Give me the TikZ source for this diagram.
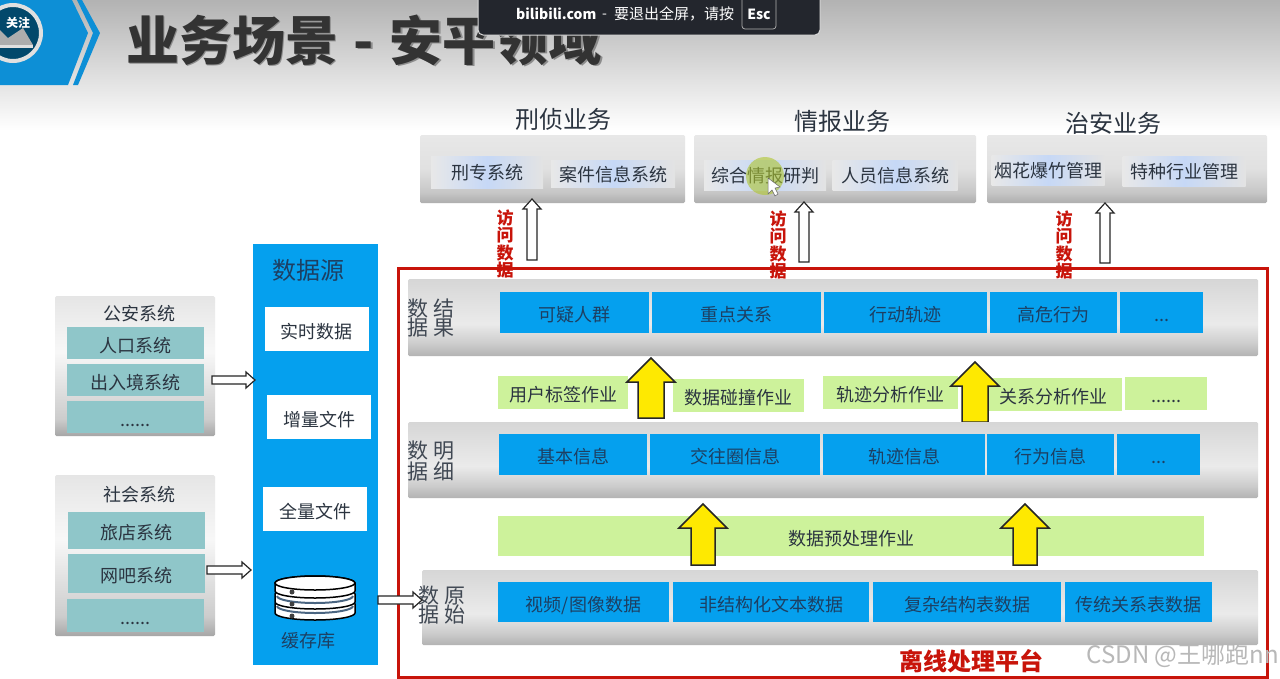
\documentclass[tikz,border=0pt]{standalone}
\usepackage{fontspec}
\setmainfont{Noto Sans CJK SC}
\usepackage{tikz}
\usetikzlibrary{calc}

\definecolor{cblue}{HTML}{05A0EE}
\definecolor{clogo}{HTML}{0D8FD6}
\definecolor{cteal}{HTML}{8FC6C9}
\definecolor{cgreen}{HTML}{CDF29B}
\definecolor{cred}{HTML}{C8140A}
\definecolor{cink}{HTML}{2B3440}
\definecolor{cnavy}{HTML}{1D3F62}
\definecolor{cbar}{HTML}{23262D}
\definecolor{cglow}{HTML}{C6D8F6}

\pgfdeclareverticalshading{panelshade}{100bp}{color(0bp)=(black!32); color(25bp)=(black!32); color(33bp)=(black!22); color(50bp)=(black!12); color(75bp)=(black!9); color(100bp)=(black!9)}
\pgfdeclareverticalshading{bandshade}{100bp}{color(0bp)=(black!30); color(25bp)=(black!30); color(33bp)=(black!20); color(46bp)=(black!8); color(75bp)=(black!16); color(100bp)=(black!16)}
\pgfdeclareverticalshading{sideshade}{100bp}{color(0bp)=(black!35); color(25bp)=(black!35); color(31bp)=(black!20); color(55bp)=(black!3); color(75bp)=(black!10); color(100bp)=(black!10)}

\tikzset{
	lbl/.style={font=\fontsize{#1}{#1}\selectfont, text=cink, inner sep=0pt},
	lbl/.default=18,
	shifted/.style={text height=20.8pt, text depth=2.2pt},
	band/.style={inner sep=0pt, rounded corners=1.5pt, shade, shading=bandshade},
	panel/.style={inner sep=0pt, rounded corners=1.5pt, shade, shading=panelshade},
	sidepanel/.style={inner sep=0pt, rounded corners=1.5pt, shade, shading=sideshade},
	glow/.style={lbl, text=cink, text height=18pt, text depth=2.2pt, minimum height=#1, shade, left color=black!9, right color=black!11, middle color=cglow},
	tealbox/.style={lbl, shifted, fill=cteal, minimum width=137pt},
	whitebox/.style={lbl, shifted, fill=white, minimum width=104pt, minimum height=44pt},
	bluebox/.style={lbl, shifted, text=cnavy, fill=cblue, minimum height=41pt},
	greenbox/.style={lbl, shifted, fill=cgreen, minimum height=33pt},
	accesstext/.style={align=center, inner sep=0pt, text=cred, font=\fontsize{17}{17.5}\selectfont\bfseries},
	sidetext/.style={align=center, inner sep=0pt, text=cink!90, font=\fontsize{21}{19.5}\selectfont},
	hollow/.style={draw=black!85, fill=white, line width=1.2pt, line join=miter},
	goldarrow/.style={draw=black!85, fill=yellow!92!orange, line width=1.5pt, line join=miter},
	disk/.style={fill=white, draw=black, line width=1.5pt},
}

% #1 style, #2 from, #3 to, #4 half body, #5 half head, #6 head length
\newcommand{\blockarrow}[6]{
	\draw[#1] ($(#2)!#4!90:(#3)$) -- ($(#3)!#6!(#2)!#4!-90:(#2)$) -- ($(#3)!#6!(#2)!#5!-90:(#2)$) -- (#3)
		-- ($(#3)!#6!(#2)!#5!90:(#2)$) -- ($(#3)!#6!(#2)!#4!90:(#2)$) -- ($(#2)!#4!-90:(#3)$) -- cycle;
}

\begin{document}
\begin{tikzpicture}[x=1pt,y=-1pt]
	\useasboundingbox (0,0) rectangle (1280,678);
	\fill[white] (0,0) rectangle (1280,678);
	\shade[top color=black!30, bottom color=white] (0,0) rectangle (1280,130);

	% logo
	\fill[clogo] (0,0) -- (72,0) -- (88,33) -- (68,85) -- (0,85) -- cycle;
	\fill[clogo] (82,0) -- (100,33) -- (78,85) -- (73,85) -- (93,33) -- (77,0) -- cycle;
	\begin{scope}
		\clip (0,0) rectangle (60,70);
		\filldraw[fill=cblue!45!black, draw=black!12, line width=4pt] (13,33) circle (28pt);
		\fill[black!32] (0,45) -- (0,30) -- (8,38) -- (23,28) -- (33,45) -- cycle;
		\fill[black!12] (0,45) rectangle (33,48);
	\end{scope}
	\node[text=white, inner sep=0pt, font=\fontsize{12}{12}\selectfont\bfseries] (follow) at (18,23) {关注};

	% title
	\node[text=black!45, inner sep=0pt, font=\fontsize{53}{53}\selectfont\bfseries, anchor=west] (titleback) at (127.5,41.5) {业务场景\hspace{3.5pt} - \hspace{3.5pt}安平领域};
	\node[text=black!80, inner sep=0pt, font=\fontsize{53}{53}\selectfont\bfseries, anchor=west] (title) at (126,40) {业务场景\hspace{3.5pt} - \hspace{3.5pt}安平领域};

	% bar
	\filldraw[fill=cbar, draw=black!15, line width=1pt, rounded corners=5pt] (478,-8) -- (478,35) -- (820,35) -- (820,-8) -- cycle;
	\node[text=white, inner sep=0pt, font=\fontsize{14}{14}\selectfont\bfseries, anchor=west] (barsite) at (516,14) {bilibili.com};
	\node[lbl=14, text=white, anchor=west] (bardash) at (602,16) {-};
	\node[lbl=15, text=white, anchor=west] (bartext) at (614,14) {要退出全屏，请按};
	\node[text=white, draw=black!30, line width=.7pt, rounded corners=3pt, inner sep=0pt, text height=16pt, text depth=0pt, font=\fontsize{14}{14}\selectfont\bfseries, minimum width=34pt, minimum height=36pt] (baresc) at (759,11) {Esc};

	% business
	\node[lbl=24] (t1) at (563,119) {刑侦业务};
	\node[lbl=24] (t2) at (842,121) {情报业务};
	\node[lbl=24] (t3) at (1113,123) {治安业务};
	\node[panel, minimum width=265pt, minimum height=68pt] (p1) at (552.5,169) {};
	\node[panel, minimum width=282pt, minimum height=68pt] (p2) at (835,169) {};
	\node[panel, minimum width=280pt, minimum height=68pt] (p3) at (1127,169) {};
	\node[glow=32pt, minimum width=112pt] (s1) at (487,172) {刑专系统};
	\node[glow=27pt, minimum width=124pt] (s2) at (613,174) {案件信息系统};
	\node[glow=30pt, minimum width=122pt] (s3) at (765,175) {综合情报研判};
	\node[glow=30pt, minimum width=125pt] (s4) at (895,175) {人员信息系统};
	\node[glow=30pt, minimum width=113pt] (s5) at (1048,170) {烟花爆竹管理};
	\node[glow=30pt, minimum width=123pt] (s6) at (1184,171) {特种行业管理};

	% pointer
	\fill[yellow!75!green!85!black, opacity=.6] (765,176) circle (19pt);
	\filldraw[fill=white, draw=black!60, line width=.5pt] (768,178) -- (768,194) -- (772,190) -- (775,196) -- (778,194) -- (775,188) -- (780,187) -- cycle;

	% offline frame
	\draw[cred, line width=3pt] (398,268) rectangle (1267,677);
	\node[text=cred, inner sep=0pt, font=\fontsize{24}{24}\selectfont\bfseries] (offline) at (971,661) {离线处理平台};
	\node[lbl=24, text=black!28, anchor=east] (mark) at (1279,656) {CSDN @王哪跑nn};

	% access
	\node[accesstext] (acc1) at (505,244) {访\\问\\数\\据};
	\node[accesstext] (acc2) at (778,245) {访\\问\\数\\据};
	\node[accesstext] (acc3) at (1064,245) {访\\问\\数\\据};
	\coordinate (a1s) at (532,260); \coordinate (a1e) at (532,199);
	\coordinate (a2s) at (804,262); \coordinate (a2e) at (804,202);
	\coordinate (a3s) at (1105,263); \coordinate (a3e) at (1105,203);
	\blockarrow{hollow}{a1s}{a1e}{5pt}{9pt}{10pt}
	\blockarrow{hollow}{a2s}{a2e}{5pt}{9pt}{10pt}
	\blockarrow{hollow}{a3s}{a3e}{5pt}{9pt}{10pt}

	% result layer
	\node[band, minimum width=850pt, minimum height=77pt] (b1) at (833,317.5) {};
	\node[sidetext] (l1) at (431,318) {数\hspace{5pt}结\\据\hspace{5pt}果};
	\node[bluebox, minimum width=149pt] (r1) at (574.5,312.5) {可疑人群};
	\node[bluebox, minimum width=169pt] (r2) at (736.5,312.5) {重点关系};
	\node[bluebox, minimum width=163pt] (r3) at (905.5,312.5) {行动轨迹};
	\node[bluebox, minimum width=127pt] (r4) at (1053.5,312.5) {高危行为};
	\node[bluebox, minimum width=83pt] (r5) at (1161.5,312.5) {...};

	% jobs
	\node[greenbox, minimum width=130pt] (j1) at (563,392) {用户标签作业};
	\node[greenbox, minimum width=131pt] (j2) at (738,395) {数据碰撞作业};
	\node[greenbox, minimum width=135pt] (j3) at (890.5,392.5) {轨迹分析作业};
	\node[greenbox, minimum width=137pt] (j4) at (1053.5,394) {关系分析作业};
	\node[greenbox, minimum width=82pt] (j5) at (1166,393.5) {......};
	\coordinate (y1s) at (651,418); \coordinate (y1e) at (651,358);
	\coordinate (y2s) at (975,422); \coordinate (y2e) at (975,362);
	\blockarrow{goldarrow}{y1s}{y1e}{13pt}{24pt}{24pt}
	\blockarrow{goldarrow}{y2s}{y2e}{13pt}{24pt}{24pt}

	% detail layer
	\node[band, minimum width=850pt, minimum height=76pt] (b2) at (833,460) {};
	\node[sidetext] (l2) at (431,461) {数\hspace{5pt}明\\据\hspace{5pt}细};
	\node[bluebox, minimum width=148pt] (d1) at (573,454.5) {基本信息};
	\node[bluebox, minimum width=170pt] (d2) at (735,454.5) {交往圈信息};
	\node[bluebox, minimum width=162pt] (d3) at (904,454.5) {轨迹信息};
	\node[bluebox, minimum width=127pt] (d4) at (1050.5,454.5) {行为信息};
	\node[bluebox, minimum width=83pt] (d5) at (1158.5,454.5) {...};

	% preprocess
	\node[greenbox, minimum width=706pt, minimum height=40pt] (pre) at (851,536) {数据预处理作业};
	\coordinate (y3s) at (703,565); \coordinate (y3e) at (703,504);
	\coordinate (y4s) at (1025,565); \coordinate (y4e) at (1025,504);
	\blockarrow{goldarrow}{y3s}{y3e}{12pt}{24pt}{24pt}
	\blockarrow{goldarrow}{y4s}{y4e}{12pt}{24pt}{24pt}

	% raw layer
	\node[band, minimum width=836pt, minimum height=75pt] (b3) at (840,607.5) {};
	\node[sidetext] (l3) at (442,605) {数\hspace{5pt}原\\据\hspace{5pt}始};
	\node[bluebox, minimum width=171pt, minimum height=40pt] (o1) at (583.5,602) {视频/图像数据};
	\node[bluebox, minimum width=196pt, minimum height=40pt] (o2) at (771,602) {非结构化文本数据};
	\node[bluebox, minimum width=188pt, minimum height=40pt] (o3) at (967,602) {复杂结构表数据};
	\node[bluebox, minimum width=147pt, minimum height=40pt] (o4) at (1138.5,602) {传统关系表数据};

	% data source
	\node[inner sep=0pt, fill=cblue, minimum width=125pt, minimum height=421pt] (src) at (315.5,454.5) {};
	\node[lbl=24, text=cnavy] (srct) at (308,270) {数据源};
	\node[whitebox] (w1) at (316.5,329) {实时数据};
	\node[whitebox] (w2) at (319,417) {增量文件};
	\node[whitebox] (w3) at (315,509) {全量文件};

	% cache
	\filldraw[disk] (275,604) -- (275,613) arc (180:360:40pt and 7pt) -- (355,604) arc (0:180:40pt and 7pt) -- cycle;
	\draw[cnavy!80, line width=2pt] (277,606) arc (180:360:38pt and 7pt);
	\filldraw[disk] (275,594) -- (275,602) arc (180:360:40pt and 7pt) -- (355,594) arc (0:180:40pt and 7pt) -- cycle;
	\draw[cnavy!80, line width=2pt] (277,596) arc (180:360:38pt and 7pt);
	\filldraw[disk] (275,583) -- (275,591) arc (180:360:40pt and 7pt) -- (355,583) arc (0:180:40pt and 7pt) -- cycle;
	\draw[disk] (315,583) ellipse (40pt and 7pt);
	\fill[black!75] (292,592) circle (2.5pt);
	\fill[black!75] (292,604) circle (2.5pt);
	\fill[black!75] (292,616) circle (2.5pt);
	\node[lbl=18, text=cnavy] (cache) at (308,641) {缓存库};

	% police
	\node[sidepanel, minimum width=160pt, minimum height=140pt] (pp) at (135,366) {};
	\node[lbl] (ppt) at (139,314) {公安系统};
	\node[tealbox, minimum height=32pt] (pp1) at (135.5,343) {人口系统};
	\node[tealbox, minimum height=32pt] (pp2) at (135.5,380) {出入境系统};
	\node[tealbox, minimum height=32pt] (pp3) at (135.5,417) {......};

	% society
	\node[sidepanel, minimum width=160pt, minimum height=161pt] (sp) at (135,555.5) {};
	\node[lbl] (spt) at (139,495) {社会系统};
	\node[tealbox, minimum height=37pt] (sp1) at (136.5,530.5) {旅店系统};
	\node[tealbox, minimum height=39pt] (sp2) at (136.5,573.5) {网吧系统};
	\node[tealbox, minimum height=33pt] (sp3) at (135.5,615.5) {......};

	% feeds
	\coordinate (f1s) at (212,380); \coordinate (f1e) at (255,380);
	\coordinate (f2s) at (207,570); \coordinate (f2e) at (251,570);
	\coordinate (f3s) at (378,600); \coordinate (f3e) at (422,600);
	\blockarrow{hollow}{f1s}{f1e}{4pt}{8pt}{9pt}
	\blockarrow{hollow}{f2s}{f2e}{4pt}{8pt}{9pt}
	\blockarrow{hollow}{f3s}{f3e}{4pt}{8pt}{9pt}
\end{tikzpicture}
\end{document}
